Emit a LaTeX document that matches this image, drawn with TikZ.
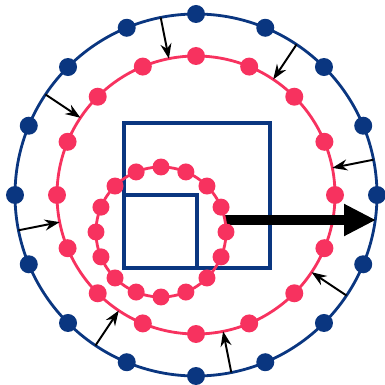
\documentclass[tikz,border=0pt]{standalone}
\usetikzlibrary{arrows.meta}
\definecolor{navy}{RGB}{10,54,128}
\definecolor{rose}{RGB}{247,50,95}

\begin{document}
\begin{tikzpicture}[
    x=0.02cm, y=0.02cm,
    ring/.style={line width=1.6pt},
    dot/.style={circle, inner sep=0pt, minimum size=0.36cm},
    box/.style={draw=navy, line width=2.8pt},
    push/.style={-{Stealth[length=0.3cm, width=0.22cm]}, line width=1.1pt},
    bigarrow/.style={-{Triangle[length=0.64cm, width=0.6cm]}, line width=0.2cm}
  ]
  \useasboundingbox (-196,-190) rectangle (189,195);

  % outer ring
  \draw[ring, navy] (0,0) circle[radius=181];
  \foreach \i in {0,...,15}
    \node[dot, fill=navy] (o\i) at (\i*22.5:181) {};

  % middle ring
  \draw[ring, rose] (0,0) circle[radius=139];
  \foreach \i in {0,...,15}
    \node[dot, fill=rose] (m\i) at (\i*22.5:139) {};

  % arrows between the rings
  \foreach \i in {0,...,7} {
    \coordinate (s\i) at (11.25+\i*45:181);
    \coordinate (t\i) at (11.25+\i*45:139);
    \draw[push] (s\i) -- (t\i);
  }

  % squares
  \draw[box] (-72,-73) rectangle (74,72);
  \draw[box] (-72,-73) rectangle (1,0);

  \coordinate (from) at (29,-25);
  \coordinate (to) at (180,-25);
  \draw[bigarrow] (from) -- (to);

  % inner ring
  \begin{scope}[shift={(-35,-37)}]
    \draw[ring, rose] (0,0) circle[radius=65];
    \foreach \i in {0,...,15}
      \node[dot, fill=rose, minimum size=0.34cm] (n\i) at (\i*22.5:65) {};
  \end{scope}
\end{tikzpicture}
\end{document}
